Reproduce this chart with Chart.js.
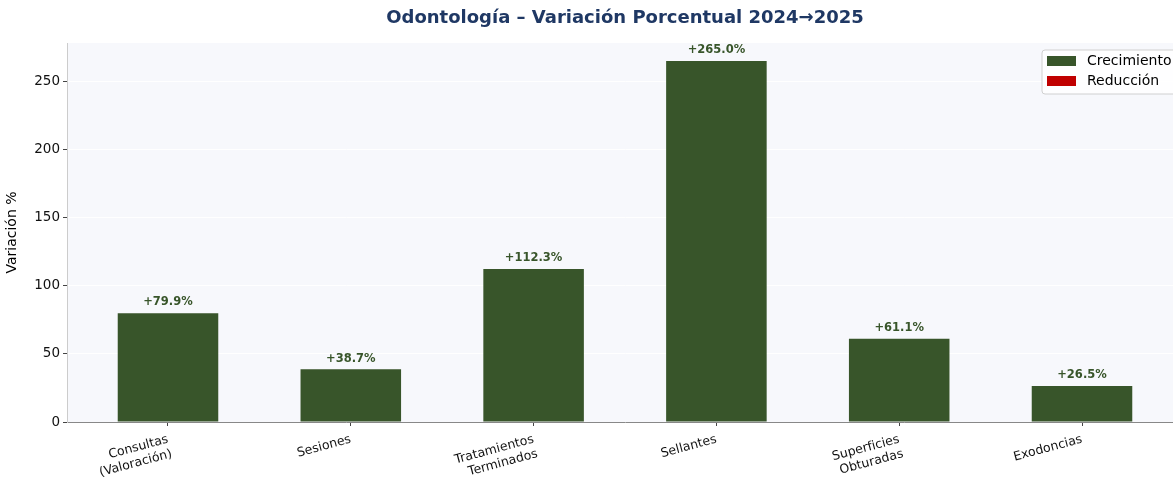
<!DOCTYPE html>
<html lang="es">
<head>
<meta charset="UTF-8">
<title>Odontología – Variación Porcentual 2024→2025</title>
<script src="https://cdn.jsdelivr.net/npm/chart.js@4.4.1/dist/chart.umd.min.js"></script>
<style>
    html, body { margin: 0; padding: 0; overflow: hidden; background: #fff; }
    #wrap { width: 1200px; height: 478px; }
</style>
</head>
<body>
<div id="wrap"><canvas id="chart"></canvas></div>
<script>
    const categories = [['Consultas', '(Valoración)'], 'Sesiones', ['Tratamientos', 'Terminados'], 'Sellantes', ['Superficies', 'Obturadas'], 'Exodoncias'];
    const variacion = [79.9, 38.7, 112.3, 265.0, 61.1, 26.5];
    const yTicks = [0, 50, 100, 150, 200, 250];
    const legendLabels = ['Crecimiento', 'Reducción'];

    const GREEN = '#38552a';
    const RED = '#c00000';
    const FONT = "'DejaVu Sans', sans-serif";

    const bgPlugin = {
        id: 'bg',
        beforeDraw(chart) {
            const a = chart.chartArea, ctx = chart.ctx;
            ctx.save();
            ctx.fillStyle = '#f7f8fc';
            ctx.fillRect(a.left, a.top, a.right - a.left, a.bottom - a.top);
            ctx.restore();
        }
    };

    const titlePlugin = {
        id: 'customTitle',
        afterDraw(chart) {
            const a = chart.chartArea, ctx = chart.ctx;
            ctx.save();
            ctx.font = "bold 18px " + FONT;
            ctx.fillStyle = '#1f3864';
            ctx.textAlign = 'center';
            ctx.textBaseline = 'middle';
            ctx.fillText('Odontología – Variación Porcentual 2024→2025', (a.left + a.right) / 2, 18);
            ctx.restore();
        }
    };

    const valuePlugin = {
        id: 'values',
        afterDatasetsDraw(chart) {
            const ctx = chart.ctx;
            ctx.save();
            ctx.font = "bold 11.5px " + FONT;
            ctx.textAlign = 'center';
            chart.data.datasets.forEach((ds, di) => {
                const meta = chart.getDatasetMeta(di);
                meta.data.forEach((bar, i) => {
                    const v = ds.data[i].y;
                    if (v === null) return;
                    ctx.fillStyle = ds.backgroundColor;
                    if (v >= 0) {
                        ctx.textBaseline = 'bottom';
                        ctx.fillText('+' + v.toFixed(1) + '%', bar.x, bar.y - 5);
                    } else {
                        ctx.textBaseline = 'top';
                        ctx.fillText(v.toFixed(1) + '%', bar.x, bar.y + 5);
                    }
                });
            });
            ctx.restore();
        }
    };

    const legendPlugin = {
        id: 'customLegend',
        afterDraw(chart) {
            const ctx = chart.ctx;
            const x = 1042, y = 50, w = 138, h = 44;
            ctx.save();
            ctx.beginPath();
            ctx.roundRect(x, y, w, h, 3);
            ctx.fillStyle = 'rgba(255,255,255,0.8)';
            ctx.fill();
            ctx.strokeStyle = '#d0d0d0';
            ctx.lineWidth = 1;
            ctx.stroke();
            ctx.font = "14px " + FONT;
            ctx.textBaseline = 'middle';
            chart.data.datasets.forEach((ds, i) => {
                const cy = y + 11 + i * 20;
                ctx.fillStyle = ds.backgroundColor;
                ctx.fillRect(x + 5, cy - 5, 29, 10);
                ctx.fillStyle = '#000';
                ctx.fillText(ds.label, x + 45, cy);
            });
            ctx.restore();
        }
    };

    new Chart(document.getElementById('chart'), {
        type: 'bar',
        data: {
            datasets: [{
                label: legendLabels[0],
                data: variacion.map((v, i) => ({ x: i, y: v >= 0 ? v : null })),
                backgroundColor: GREEN,
                grouped: false,
                barPercentage: 0.55,
                categoryPercentage: 1
            }, {
                label: legendLabels[1],
                data: variacion.map((v, i) => ({ x: i, y: v < 0 ? v : null })),
                backgroundColor: RED,
                grouped: false,
                barPercentage: 0.55,
                categoryPercentage: 1
            }]
        },
        options: {
            responsive: true,
            maintainAspectRatio: false,
            animation: false,
            devicePixelRatio: 1,
            layout: { padding: { top: 43, right: 17, bottom: 0, left: 0 } },
            plugins: {
                legend: { display: false },
                title: { display: false },
                tooltip: { enabled: false }
            },
            scales: {
                x: {
                    type: 'linear',
                    offset: false,
                    min: -0.5525,
                    max: 5.5525,
                    afterBuildTicks: (scale) => { scale.ticks = categories.map((c, i) => ({ value: i })); },
                    afterFit: (scale) => { scale.height = 56; },
                    ticks: {
                        callback: (v) => categories[v],
                        autoSkip: false,
                        minRotation: 15,
                        maxRotation: 15,
                        color: '#111',
                        padding: 6,
                        font: { family: FONT, size: 12.5 }
                    },
                    grid: { offset: false, drawOnChartArea: false, drawTicks: true, tickLength: 4, tickColor: '#444' },
                    border: { color: '#888', width: 1 }
                },
                y: {
                    min: 0,
                    max: 278.25,
                    afterBuildTicks: (scale) => { scale.ticks = yTicks.map(v => ({ value: v })); },
                    afterFit: (scale) => { scale.width = 67; },
                    ticks: {
                        color: '#111',
                        padding: 3,
                        font: { family: FONT, size: 13.5 }
                    },
                    grid: { color: '#ffffff', lineWidth: 1, tickLength: 4, tickColor: '#444' },
                    border: { color: '#cccccc', width: 1 },
                    title: {
                        display: true,
                        text: 'Variación %',
                        color: '#000',
                        font: { family: FONT, size: 14 },
                        padding: { top: 4, bottom: 0 }
                    }
                }
            }
        },
        plugins: [bgPlugin, titlePlugin, valuePlugin, legendPlugin]
    });
</script>
</body>
</html>
